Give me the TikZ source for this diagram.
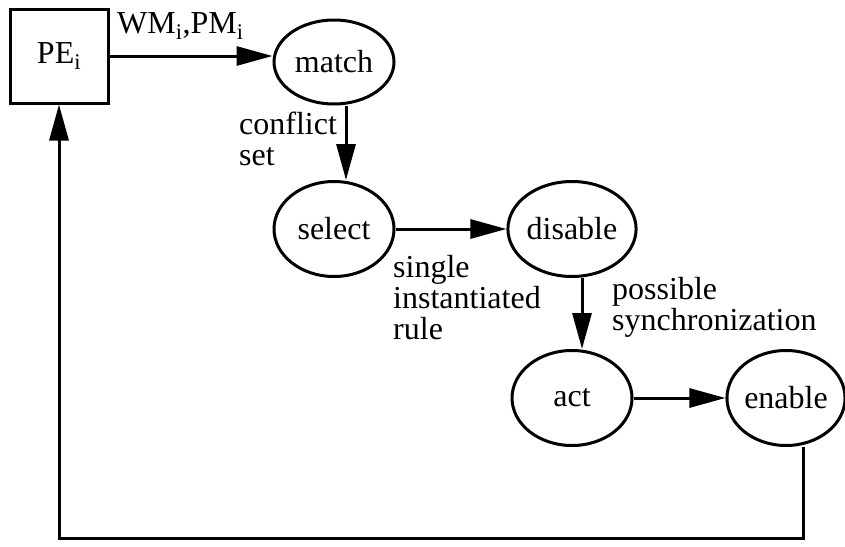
\documentclass[tikz,border=0pt]{standalone}
\usepackage{fontspec}
\setmainfont{Liberation Serif}
\usetikzlibrary{shapes, arrows.meta, positioning}
\tikzstyle{etapa} = [draw, ellipse, line width=3pt, minimum width=120pt, minimum height=95pt, inner sep=0pt]
\tikzstyle{proceso} = [draw, rectangle, line width=3pt, minimum width=98pt, minimum height=94pt]
\tikzstyle{flecha} = [line width=3pt, -{Triangle[length=36pt,width=19pt]}]
\tikzstyle{etiqueta} = [align=left, anchor=north west, inner sep=0pt]

\begin{document}
\begin{tikzpicture}[x=1pt, y=-1pt, font=\fontsize{32}{31}\selectfont]
	\useasboundingbox (0,0) rectangle (845,546);
	% nodos
	\node[proceso] (pe) at (59,56) {PE\textsubscript{i}};
	\node[etapa, minimum height=84pt] (match) at (334,62) {match};
	\node[etapa] (select) at (334,229) {select};
	\node[etapa] (disable) at (572,229) {disable};
	\node[etapa] (act) at (572,398) {act};
	\node[etapa, minimum width=116pt] (enable) at (786,398) {enable};
	\coordinate (vuelta) at (59,538);
	% flechas
	\draw[flecha] (pe.east) -- (pe.east -| match.west);
	\draw[flecha] ([xshift=12pt]match.south) -- ([xshift=12pt]select.north);
	\draw[flecha] (select) -- (disable);
	\draw[flecha] ([xshift=10pt]disable.south) -- ([xshift=10pt]act.north);
	\draw[flecha] (act) -- (enable);
	\draw[flecha] ([xshift=17pt]enable.south) |- (vuelta) -- (pe.south);
	% etiquetas
	\node[etiqueta, anchor=base west] (wmpm) at (117,33) {WM\textsubscript{i},PM\textsubscript{i}};
	\node[etiqueta] (conflicto) at (239,112) {conflict\\set};
	\node[etiqueta] (regla) at (393,255) {single\\instantiated\\rule};
	\node[etiqueta] (sincro) at (612,277) {possible\\synchronization};
\end{tikzpicture}
\end{document}
